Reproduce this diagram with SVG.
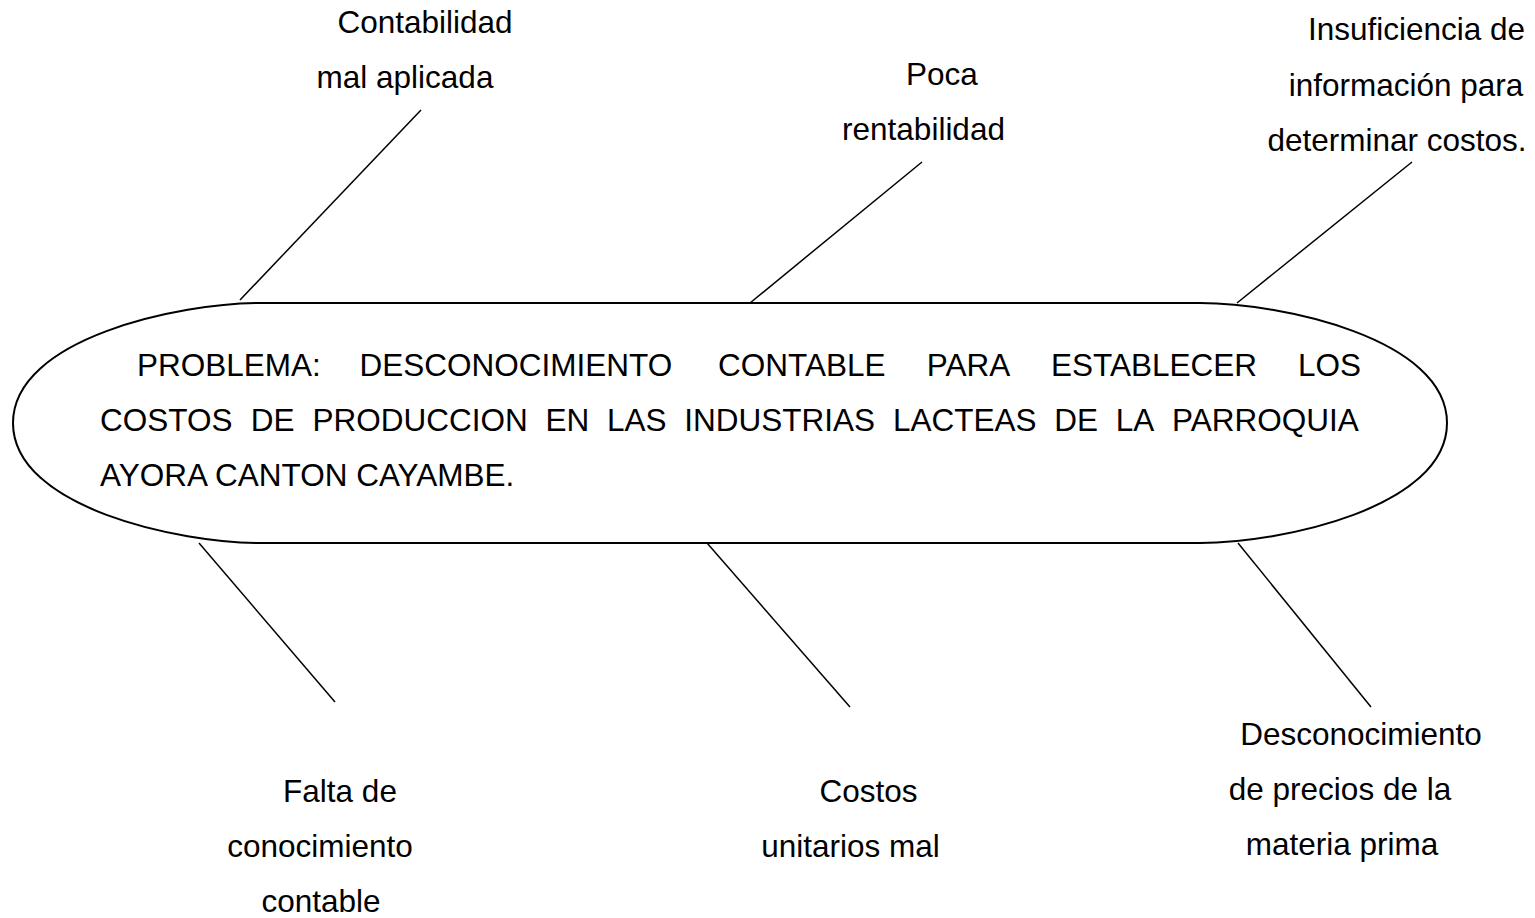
<svg xmlns="http://www.w3.org/2000/svg" width="1535" height="918" viewBox="0 0 1535 918">
<style>
text{font-family:"Liberation Sans",Arial,sans-serif;font-size:31.5px;fill:#000}
.lbl{text-anchor:middle}
.ln{stroke:#000;stroke-width:1.5;fill:none}
.shape{stroke:#000;stroke-width:2;fill:#fff}
</style>
<rect width="1535" height="918" fill="#fff"/>
<g id="connectors">
<line class="ln" x1="240" y1="300" x2="421" y2="110"/>
<line class="ln" x1="750" y1="303" x2="922" y2="162"/>
<line class="ln" x1="1237" y1="303" x2="1412" y2="162"/>
<line class="ln" x1="199" y1="543" x2="335" y2="702"/>
<line class="ln" x1="707" y1="543" x2="850" y2="707"/>
<line class="ln" x1="1238" y1="543" x2="1371" y2="707"/>
</g>
<g id="problem">
<path class="shape" d="M260,303 L1200,303 C1280,303 1447,338 1447,423 C1447,508 1280,543 1200,543 L260,543 C180,543 13,508 13,423 C13,338 180,303 260,303 Z"/>
<text y="376"><tspan x="137">PROBLEMA:</tspan><tspan x="359.6">DESCONOCIMIENTO</tspan><tspan x="718">CONTABLE</tspan><tspan x="926.8">PARA</tspan><tspan x="1051">ESTABLECER</tspan><tspan x="1298">LOS</tspan></text>
<text y="431"><tspan x="100">COSTOS</tspan><tspan x="250.8">DE</tspan><tspan x="312.4">PRODUCCION</tspan><tspan x="545.4">EN</tspan><tspan x="607">LAS</tspan><tspan x="684.3">INDUSTRIAS</tspan><tspan x="892.9">LACTEAS</tspan><tspan x="1054.2">DE</tspan><tspan x="1115.7">LA</tspan><tspan x="1172">PARROQUIA</tspan></text>
<text x="100" y="486">AYORA CANTON CAYAMBE.</text>
</g>
<g id="cause-contabilidad">
<text class="lbl" x="425" y="33">Contabilidad</text>
<text class="lbl" x="405" y="88">mal aplicada</text>
</g>
<g id="cause-rentabilidad">
<text class="lbl" x="942" y="85">Poca</text>
<text class="lbl" x="923.5" y="140">rentabilidad</text>
</g>
<g id="cause-informacion">
<text class="lbl" x="1416.5" y="40">Insuficiencia de</text>
<text class="lbl" x="1406" y="96">información para</text>
<text class="lbl" x="1397" y="151">determinar costos.</text>
</g>
<g id="cause-conocimiento">
<text class="lbl" x="340" y="802">Falta de</text>
<text class="lbl" x="320" y="857">conocimiento</text>
<text class="lbl" x="321" y="912">contable</text>
</g>
<g id="cause-costos">
<text class="lbl" x="868.5" y="802">Costos</text>
<text class="lbl" x="850.5" y="857">unitarios mal</text>
</g>
<g id="cause-precios">
<text class="lbl" x="1361" y="745">Desconocimiento</text>
<text class="lbl" x="1340" y="800">de precios de la</text>
<text class="lbl" x="1342" y="855">materia prima</text>
</g>
</svg>
